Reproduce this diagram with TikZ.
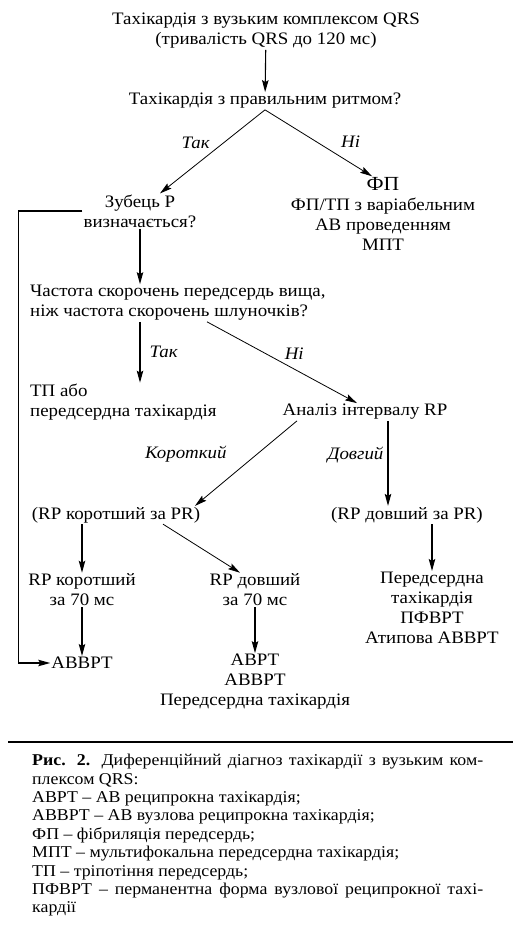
\documentclass[tikz,border=0pt]{standalone}
\usepackage{fontspec}
\setmainfont[FakeStretch=1.08]{Liberation Serif}
\usepackage{tikz}
\usetikzlibrary{positioning,arrows.meta}

\begin{document}
\begin{tikzpicture}[
  x=1pt, y=-1pt,
  txt/.style={align=center, inner sep=1pt, font=\fontsize{17.5}{20}\selectfont},
  lab/.style={inner sep=1pt, font=\fontsize{17.5}{20}\selectfont\itshape},
  arrow/.style={-{Stealth[length=12pt,width=6.5pt,inset=2pt]}, line width=1.1pt},
  slant/.style={arrow, line width=0.8pt}
]
\useasboundingbox (0,0) rectangle (513,949);
\node[txt] (head) at (266,31) {Тахікардія з вузьким комплексом QRS\\(тривалість QRS до 120 мс)};
\node[txt] (rhythm) at (265,101) {Тахікардія з правильним ритмом?};
\node[txt] (pwave) at (140,211) {Зубець Р\\визначається?};
\node[txt] (afib) at (383,214) {{\fontsize{20}{20}\selectfont ФП}\\ФП/ТП з варіабельним\\АВ проведенням\\МПТ};
\node[txt, align=left, anchor=west] (rate) at (29,303) {Частота скорочень передсердь вища,\\ніж частота скорочень шлуночків?};
\node[txt, align=left, anchor=west] (flut) at (29,402) {ТП або\\передсердна тахікардія};
\node[txt] (rp) at (365,412) {Аналіз інтервалу RP};
\node[txt] (rpshort) at (116,515) {(RP коротший за PR)};
\node[txt] (rplong) at (407,515) {(RP довший за PR)};
\node[txt] (short70) at (82,590) {RP коротший\\за 70 мс};
\node[txt] (long70) at (255,590) {RP довший\\за 70 мс};
\node[txt] (atrial) at (432,608) {Передсердна\\тахікардія\\ПФВРТ\\Атипова АВВРТ};
\node[txt] (avnrt) at (82,663) {АВВРТ};
\node[txt] (avrt) at (255,682) {АВРТ\\АВВРТ\\Передсердна тахікардія};

\draw[arrow] (head) -- (rhythm);
\draw[slant] (rhythm.south) -- ([xshift=20pt]pwave.north) node[lab, midway, above left=2pt] {Так};
\draw[slant] (rhythm.south) -- ([xshift=-11pt]afib.north) node[lab, pos=0.8, above=14pt] {Ні};
\draw[arrow] (pwave.south) -- (pwave.south |- rate.north);
\draw[arrow] (rate.south -| pwave) -- (flut.north -| pwave) node[lab, midway, right=8pt] {Так};
\draw[slant] ([xshift=178pt]rate.south west) -- ([xshift=-8pt]rp.north) node[lab, midway, above right=2pt] {Ні};
\draw[slant] ([xshift=-68pt]rp.south) -- ([xshift=79pt]rpshort.north) node[lab, midway, above left=0pt and 18pt] {Короткий};
\draw[arrow] ([xshift=23pt]rp.south) -- ([xshift=23pt]rp.south |- rplong.north) node[lab, pos=0.4, left=3pt] {Довгий};
\draw[arrow] (rpshort.south -| short70) -- (short70);
\draw[slant] ([xshift=47pt]rpshort.south) -- ([xshift=-15pt]long70.north);
\draw[arrow] (rplong.south -| atrial) -- (atrial);
\draw[arrow] (short70) -- (avnrt);
\draw[arrow] (long70) -- (avrt);
% return path from P wave to AVNRT
\draw[arrow] (pwave.west) -- ++(-64,0) |- (avnrt.west);

\draw[line width=1.2pt] (8,742) -- (513,742);
\node[anchor=north west, align=left, inner sep=0pt, font=\fontsize{16.5}{18.4}\selectfont] (legend) at (32,754) {%
\makebox[451pt][s]{\textbf{Рис. 2.} Диференційний діагноз тахікардії з вузьким ком-}\\
плексом QRS:\\
АВРТ -- АВ реципрокна тахікардія;\\
АВВРТ -- АВ вузлова реципрокна тахікардія;\\
ФП -- фібриляція передсердь;\\
МПТ -- мультифокальна передсердна тахікардія;\\
ТП -- тріпотіння передсердь;\\
\makebox[451pt][s]{ПФВРТ -- перманентна форма вузлової реципрокної тахі-}\\
кардії};
\end{tikzpicture}
\end{document}
